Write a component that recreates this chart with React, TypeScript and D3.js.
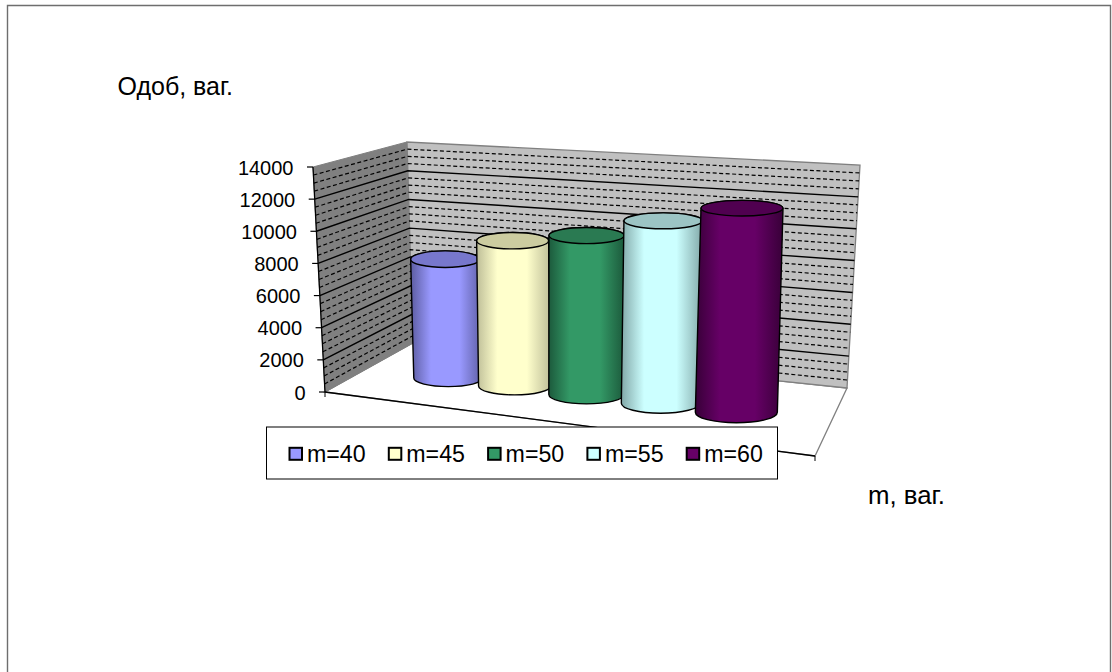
import React from "react";
import * as d3 from "d3";

// Series drawn as cylinders, front row of a 3D column chart
const seriesNames = ["m=40", "m=45", "m=50", "m=55", "m=60"];
const seriesValues = [7650, 9200, 9900, 11180, 12300];
const seriesColors = ["#9999FF", "#FFFFCC", "#339966", "#CCFFFF", "#660066"];
const capColors = ["#7777CC", "#CCCCA0", "#2A7A52", "#9CC4C4", "#500050"];
const edgeColors = ["#5C5CA0", "#BEBE98", "#1C5A3C", "#82A8A8", "#380038"];

const yMajorTicks = d3.range(0, 14001, 2000);
const yMinorTicks = d3.range(0, 14001, 500).filter((v) => v % 2000 !== 0);
const yTitle = "Одоб, ваг.";
const xTitle = "m, ваг.";

type Pt = [number, number];

// Corners of the chart box as projected on the page
const box = {
  flb: [325, 392] as Pt,
  flt: [313, 167] as Pt,
  blb: [413, 343] as Pt,
  blt: [407, 142] as Pt,
  brb: [847, 388] as Pt,
  brt: [860, 165] as Pt,
  frb: [815, 456] as Pt,
  frt: [823, 206] as Pt,
};

const vScale = d3.scaleLinear().domain([0, 14000]).range([0, 1]);
// Columns spread slightly towards the viewer on the right, hence the power scale
const slotScale = d3.scalePoint<string>().domain(seriesNames).range([0, 1]);
const uScale = d3.scalePow().exponent(1.06).domain([0, 1]).range([0.175, 0.797]);
const radiusScale = d3.scaleLinear().domain([0.175, 0.797]).range([34.5, 41]);
const capRyScale = d3.scaleLinear().domain([0.175, 0.797]).range([8.3, 7.8]);
const baseRyScale = d3.scaleLinear().domain([0.175, 0.797]).range([8.5, 10.5]);
const columnDepth = 0.48;

const mix = (a: Pt, b: Pt, t: number): Pt => [
  d3.interpolateNumber(a[0], b[0])(t),
  d3.interpolateNumber(a[1], b[1])(t),
];

// Trilinear projection: u runs left to right, v up the value axis, w front to back
function project(u: number, value: number, w: number): Pt {
  const v = vScale(value);
  const front = mix(mix(box.flb, box.frb, u), mix(box.flt, box.frt, u), v);
  const back = mix(mix(box.blb, box.brb, u), mix(box.blt, box.brt, u), v);
  return mix(front, back, w);
}

const poly = (pts: Pt[]) => (d3.line()(pts) ?? "") + "Z";

function Cylinder({ index }: { index: number }) {
  const name = seriesNames[index];
  const u = uScale(slotScale(name) ?? 0);
  const rx = radiusScale(u);
  const capRy = capRyScale(u);
  const baseRy = baseRyScale(u);
  const [bx, by] = project(u, 0, columnDepth);
  const [tx, ty] = project(u, seriesValues[index], columnDepth);
  const id = `cyl-${index}`;
  const body = `M${tx - rx},${ty}L${bx - rx},${by}A${rx},${baseRy} 0 0 0 ${bx + rx},${by}L${tx + rx},${ty}A${rx},${capRy} 0 0 0 ${tx - rx},${ty}Z`;
  return (
    <g stroke="#000" strokeWidth={1.4}>
      <defs>
        <linearGradient id={id} x1="0" x2="1" y1="0" y2="0">
          <stop offset="0" stopColor={edgeColors[index]} />
          <stop offset="0.28" stopColor={seriesColors[index]} />
          <stop offset="0.68" stopColor={seriesColors[index]} />
          <stop offset="1" stopColor={edgeColors[index]} />
        </linearGradient>
      </defs>
      <path d={body} fill={`url(#${id})`} />
      <ellipse cx={tx} cy={ty} rx={rx} ry={capRy} fill={capColors[index]} />
    </g>
  );
}

function GridLines({ value, major }: { value: number; major: boolean }) {
  const corners = [project(0, value, 0), project(0, value, 1), project(1, value, 1)];
  return (
    <path
      d={d3.line()(corners) ?? ""}
      fill="none"
      stroke="#000"
      strokeWidth={major ? 1.4 : 1.2}
      strokeDasharray={major ? undefined : "4 2.5"}
    />
  );
}

export default function App() {
  const font = "'Liberation Sans', Arial, sans-serif";
  return (
    <svg
      width={1112}
      height={672}
      style={{ position: "absolute", left: 0, top: 0, background: "#fff" }}
      fontFamily={font}
    >
      <path d="M7.5,672V5.5H1110.5V672" fill="none" stroke="#6e6e6e" strokeWidth={1.4} />

      <text x={117.5} y={95} fontSize={25} fill="#000">{yTitle}</text>
      <text x={868} y={503.5} fontSize={25.8} fill="#000">{xTitle}</text>

      {/* Walls and floor */}
      <path
        d={poly([project(0, 0, 0), project(0, 0, 1), project(1, 0, 1), project(1, 0, 0)])}
        fill="#fff"
        stroke="#808080"
        strokeWidth={1.3}
      />
      <path
        d={poly([project(0, 0, 0), project(0, 14000, 0), project(0, 14000, 1), project(0, 0, 1)])}
        fill="#808080"
        stroke="#808080"
      />
      <path
        d={poly([project(0, 0, 1), project(0, 14000, 1), project(1, 14000, 1), project(1, 0, 1)])}
        fill="#C0C0C0"
        stroke="#808080"
        strokeWidth={1.3}
      />

      {yMinorTicks.map((v) => <GridLines key={v} value={v} major={false} />)}
      {yMajorTicks.slice(1, -1).map((v) => <GridLines key={v} value={v} major />)}

      {/* Value axis */}
      <path d={d3.line()([project(0, 0, 0), project(0, 14000, 0)]) ?? ""} stroke="#000" strokeWidth={1.3} fill="none" />
      {yMajorTicks.map((v) => {
        const [x, y] = project(0, v, 0);
        return (
          <g key={v}>
            <line x1={x - 6} x2={x} y1={y} y2={y} stroke="#000" strokeWidth={1.2} />
            <text x={x - 19.5} y={y} dy="0.38em" textAnchor="end" fontSize={20} fill="#000">
              {v}
            </text>
          </g>
        );
      })}

      {/* Front edge of the floor with its end ticks */}
      <path d={d3.line()([project(0, 0, 0), project(1, 0, 0)]) ?? ""} stroke="#000" strokeWidth={1.3} fill="none" />
      {[0, 1].map((u) => {
        const [x, y] = project(u, 0, 0);
        return <line key={u} x1={x} x2={x} y1={y} y2={y + 5} stroke="#000" />;
      })}

      {seriesNames.map((name, i) => <Cylinder key={name} index={i} />)}

      {/* Legend */}
      <rect x={266.5} y={427} width={511} height={52} fill="#fff" stroke="#000" strokeWidth={1} />
      {seriesNames.map((name, i) => {
        const x = d3.scaleLinear().domain([0, 1]).range([289.5, 388.8])(i);
        return (
          <g key={name}>
            <rect x={x} y={447.8} width={12.5} height={12} fill={seriesColors[i]} stroke="#000" strokeWidth={2} />
            <text x={x + 17.5} y={461.5} fontSize={23.2} fill="#000">{name}</text>
          </g>
        );
      })}
    </svg>
  );
}
